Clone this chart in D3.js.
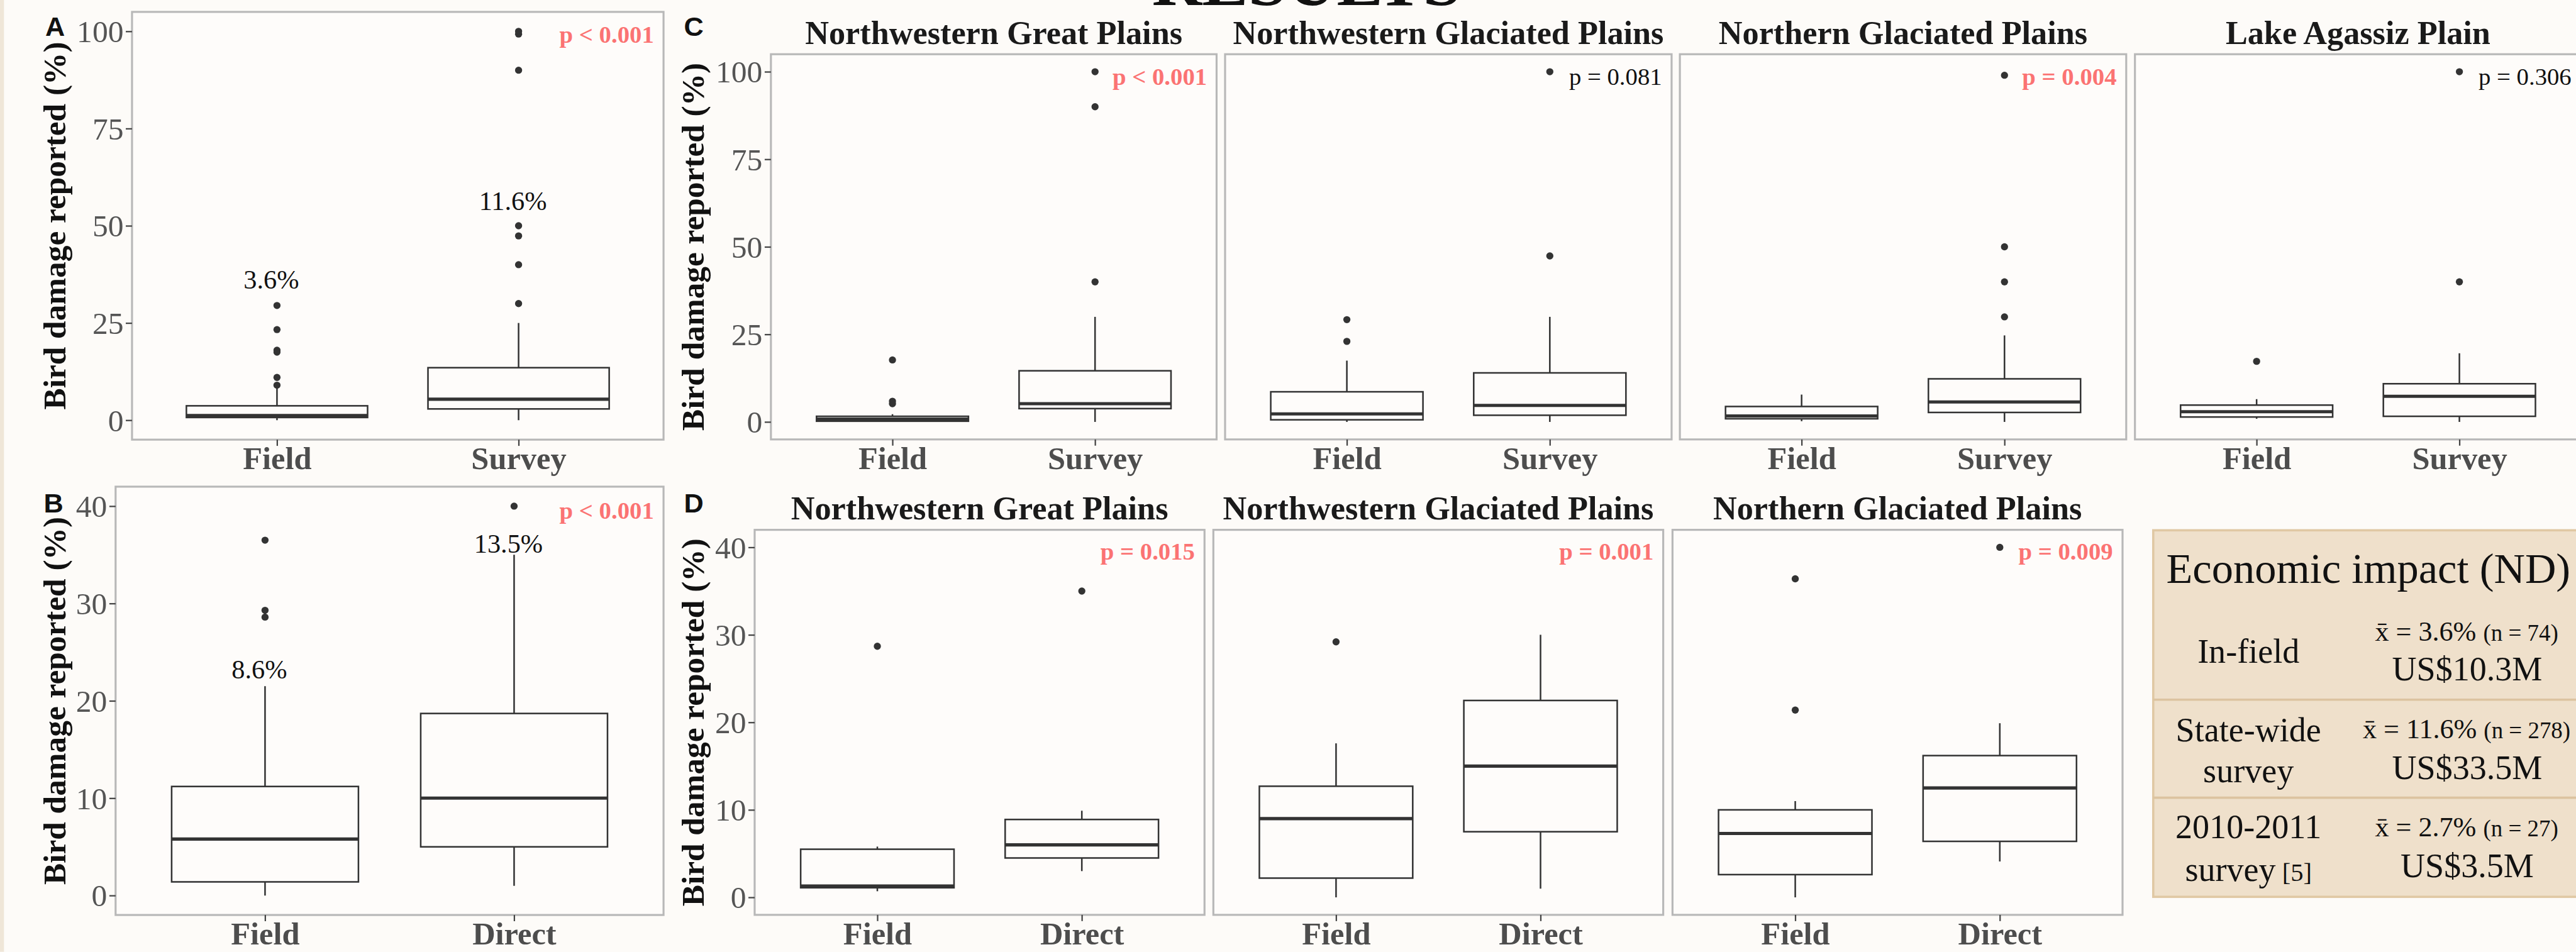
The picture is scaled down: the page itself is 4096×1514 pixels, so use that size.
<!DOCTYPE html>
<html>
<head>
<meta charset="utf-8">
<script src="https://cdn.jsdelivr.net/npm/d3@7"></script>
<style>
  html, body { margin: 0; padding: 0; background: #fdfbf8; overflow: hidden; }
  svg { display: block; }
</style>
</head>
<body>
<svg id="chart" width="4096" height="1514"></svg>
<script>
// -- Data --
const groupsSurvey = ["Field", "Survey"];
const groupsDirect = ["Field", "Direct"];
const regionsC = ["Northwestern Great Plains", "Northwestern Glaciated Plains", "Northern Glaciated Plains", "Lake Agassiz Plain"];
const regionsD = ["Northwestern Great Plains", "Northwestern Glaciated Plains", "Northern Glaciated Plains"];
const ticksAC = [0, 25, 50, 75, 100];
const ticksBD = [0, 10, 20, 30, 40];

// box stats per group: [lower whisker, q1, median, q3, upper whisker]
const statsA = [[0, 0.7, 1.2, 3.7, 8.2], [0, 2.9, 5.4, 13.5, 25]];
const outliersA = [[9, 11, 17.5, 18, 23.3, 29.5], [30, 40, 47.4, 50, 90, 99.3, 100]];
const meansA = ["3.6%", "11.6%"];
const meanYA = [33.8, 54];

const statsB = [[0, 1.4, 5.8, 11.2, 21.5], [1, 5, 10, 18.7, 35]];
const outliersB = [[28.6, 29.3, 36.5], [40]];
const meansB = ["8.6%", "13.5%"];
const meanYB = [22.3, 35.2];

const statsC = [
  [[0, 0.2, 0.8, 1.6, 2.2], [0, 3.8, 5.2, 14.6, 30]],
  [[0, 0.6, 2.3, 8.6, 17.5], [0, 1.9, 4.7, 14, 30]],
  [[0.2, 0.9, 1.7, 4.4, 7.8], [0, 2.7, 5.7, 12.3, 24.7]],
  [[0.9, 1.4, 2.9, 4.8, 6.5], [0, 1.6, 7.3, 10.9, 19.6]]
];
const outliersC = [
  [[5.2, 5.9, 17.7], [40, 90, 100]],
  [[23, 29.2], [47.4, 100]],
  [[], [30, 40, 50, 99]],
  [[17.3], [40, 100]]
];
const pValuesC = ["p < 0.001", "p = 0.081", "p = 0.004", "p = 0.306"];
const pSignifC = [true, false, true, false];

const statsD = [
  [[0.7, 1.1, 1.3, 5.5, 5.8], [3, 4.5, 6, 8.9, 9.9]],
  [[0, 2.2, 9, 12.7, 17.6], [1, 7.5, 15, 22.5, 30]],
  [[0, 2.6, 7.3, 10, 11], [4.1, 6.4, 12.5, 16.2, 19.9]]
];
const outliersD = [
  [[28.7], [35]],
  [[29.2], []],
  [[21.4, 36.4], [40]]
];
const pValuesD = ["p = 0.015", "p = 0.001", "p = 0.009"];

const tableTitle = "Economic impact (ND)";
const tableLabels = [["In-field"], ["State-wide", "survey"], ["2010-2011", "survey"]];
const tableMeans = ["3.6%", "11.6%", "2.7%"];
const tableN = ["74", "278", "27"];
const tableCosts = ["US$10.3M", "US$33.5M", "US$3.5M"];

// -- Styles --
const SERIF = "'Liberation Serif', 'Times New Roman', serif";
const SANS = "'Liberation Sans', Arial, sans-serif";
const RED = "#fb7373";
const BOX_STROKE = "#333333";
const PANEL_FILL = "#fefcfa";

const svg = d3.select("#chart");
svg.append("rect").attr("width", 4096).attr("height", 1514).attr("fill", "#fdfbf8");

// everything is laid out in the reference's pixel space and scaled down
const root = svg.append("g").attr("transform", "scale(0.901)");

// beige strip at left edge of poster
root.append("rect").attr("x", 0).attr("y", 0).attr("width", 7).attr("height", 1680).attr("fill", "#efe6d8");

// poster heading, mostly cut off by the top edge
root.append("text")
  .attr("x", 2033).attr("y", 9)
  .attr("textLength", 546).attr("lengthAdjust", "spacingAndGlyphs")
  .style("font-family", SERIF).style("font-weight", "bold").style("font-size", "120px")
  .attr("fill", "#111").text("RESULTS");

function drawPanel(opts) {
  const { x0, x1, y0, y1, groups, domain, stats, outliers, ticks, showY } = opts;
  const x = d3.scalePoint().domain(groups).range([x0, x1]).padding(0.6);
  const y = d3.scaleLinear().domain(domain).range([y1, y0]);
  const bw = x.step() * 0.75;
  const g = root.append("g");

  g.append("rect")
    .attr("x", x0).attr("y", y0).attr("width", x1 - x0).attr("height", y1 - y0)
    .attr("fill", PANEL_FILL).attr("stroke", "#b8b8b8").attr("stroke-width", 3.5);

  // x axis
  const xa = g.append("g").attr("transform", `translate(0,${y1})`)
    .call(d3.axisBottom(x).tickSize(11).tickSizeOuter(0));
  xa.select(".domain").remove();
  xa.selectAll("line").attr("stroke", "#444").attr("stroke-width", 2.5);
  xa.selectAll("text")
    .attr("y", 52).attr("dy", null)
    .style("font-family", SERIF).style("font-weight", "bold").style("font-size", "56px")
    .attr("fill", "#4d4d4d");

  if (showY) {
    const ya = g.append("g").attr("transform", `translate(${x0},0)`)
      .call(d3.axisLeft(y).tickValues(ticks).tickSize(11).tickPadding(4).tickSizeOuter(0));
    ya.select(".domain").remove();
    ya.selectAll("line").attr("stroke", "#444").attr("stroke-width", 2.5);
    ya.selectAll("text")
      .attr("dy", "0.34em")
      .style("font-family", SERIF).style("font-size", "55px")
      .attr("fill", "#555");
  }

  const boxes = g.selectAll(".box").data(groups.map((k, i) => ({ k, s: stats[i], o: outliers[i] })))
    .enter().append("g").attr("class", "box");

  boxes.append("line")
    .attr("x1", d => x(d.k)).attr("x2", d => x(d.k))
    .attr("y1", d => y(d.s[0])).attr("y2", d => y(d.s[4]))
    .attr("stroke", BOX_STROKE).attr("stroke-width", 2.8);

  boxes.append("rect")
    .attr("x", d => x(d.k) - bw / 2).attr("width", bw)
    .attr("y", d => y(d.s[3])).attr("height", d => y(d.s[1]) - y(d.s[3]))
    .attr("fill", PANEL_FILL).attr("stroke", BOX_STROKE).attr("stroke-width", 2.8);

  boxes.append("line")
    .attr("x1", d => x(d.k) - bw / 2).attr("x2", d => x(d.k) + bw / 2)
    .attr("y1", d => y(d.s[2])).attr("y2", d => y(d.s[2]))
    .attr("stroke", BOX_STROKE).attr("stroke-width", 5.6);

  boxes.selectAll("circle").data(d => d.o.map(v => ({ k: d.k, v })))
    .enter().append("circle")
    .attr("cx", d => x(d.k)).attr("cy", d => y(d.v)).attr("r", 6.3)
    .attr("fill", "#333");

  return { g, x, y };
}

function yTitle(xBase, yCenter) {
  root.append("text")
    .attr("transform", `translate(${xBase},${yCenter}) rotate(-90)`)
    .attr("text-anchor", "middle")
    .style("font-family", SERIF).style("font-weight", "bold").style("font-size", "57px")
    .attr("fill", "#111").text("Bird damage reported (%)");
}

function panelLetter(letter, xPos, yPos) {
  root.append("text").attr("x", xPos).attr("y", yPos)
    .style("font-family", SANS).style("font-weight", "bold").style("font-size", "48px")
    .attr("fill", "#111").text(letter);
}

function pLabel(p, text, signif, yVal) {
  p.g.append("text")
    .attr("x", p.x.range()[1] - 17).attr("y", p.y(yVal))
    .attr("text-anchor", "end")
    .style("font-family", SERIF).style("font-size", "43px")
    .style("font-weight", signif ? "bold" : "normal")
    .attr("fill", signif ? RED : "#111").text(text);
}

function meanLabels(p, groups, labels, ys) {
  p.g.selectAll(".mean").data(groups).enter().append("text")
    .attr("class", "mean")
    .attr("x", d => p.x(d) - 10).attr("y", (d, i) => p.y(ys[i]))
    .attr("text-anchor", "middle")
    .style("font-family", SERIF).style("font-size", "47px")
    .attr("fill", "#111").text((d, i) => labels[i]);
}

function stripTitle(p, text) {
  const [a, b] = p.x.range();
  p.g.append("text")
    .attr("x", (a + b) / 2).attr("y", p.y.range()[1] - 18)
    .attr("text-anchor", "middle")
    .style("font-family", SERIF).style("font-weight", "bold").style("font-size", "58px")
    .attr("fill", "#1a1a1a").text(text);
}

// -- Panel A --
const pA = drawPanel({ x0: 233, x1: 1171, y0: 21, y1: 776, groups: groupsSurvey, domain: [-5, 105],
  stats: statsA, outliers: outliersA, ticks: ticksAC, showY: true });
meanLabels(pA, groupsSurvey, meansA, meanYA);
pLabel(pA, "p < 0.001", true, 97);
yTitle(115, 398.5);
panelLetter("A", 80, 63);

// -- Panel B --
const pB = drawPanel({ x0: 204, x1: 1171, y0: 859, y1: 1615, groups: groupsDirect, domain: [-2, 42],
  stats: statsB, outliers: outliersB, ticks: ticksBD, showY: true });
meanLabels(pB, groupsDirect, meansB, meanYB);
pLabel(pB, "p < 0.001", true, 38.7);
yTitle(115, 1237);
panelLetter("B", 77, 904);

// -- Panel C --
const facetC = [[1360.5, 2147], [2162, 2950], [2964.6, 3752.3], [3767.7, 4555]];
regionsC.forEach((r, i) => {
  const p = drawPanel({ x0: facetC[i][0], x1: facetC[i][1], y0: 95.7, y1: 775.6, groups: groupsSurvey,
    domain: [-5, 105], stats: statsC[i], outliers: outliersC[i], ticks: ticksAC, showY: i === 0 });
  stripTitle(p, r);
  pLabel(p, pValuesC[i], pSignifC[i], 96.2);
});
yTitle(1242, 435.6);
panelLetter("C", 1207, 63);

// -- Panel D --
const facetD = [[1331.8, 2125.7], [2141.3, 2935.2], [2951.6, 3745.8]];
regionsD.forEach((r, i) => {
  const p = drawPanel({ x0: facetD[i][0], x1: facetD[i][1], y0: 935.2, y1: 1614.8, groups: groupsDirect,
    domain: [-2, 42], stats: statsD[i], outliers: outliersD[i], ticks: ticksBD, showY: i === 0 });
  stripTitle(p, r);
  pLabel(p, pValuesD[i], true, 38.6);
});
yTitle(1242, 1275);
panelLetter("D", 1207, 904);

// -- Economic impact table --
const tbl = root.append("g");
tbl.append("rect").attr("x", 3800).attr("y", 936).attr("width", 800).attr("height", 647)
  .attr("fill", "#efe0cb").attr("stroke", "#e0c8a4").attr("stroke-width", 4);
[1235, 1408].forEach(yy => {
  tbl.append("line").attr("x1", 3800).attr("x2", 4600).attr("y1", yy).attr("y2", yy)
    .attr("stroke", "#dcc3a0").attr("stroke-width", 4);
});
tbl.append("text").attr("x", 3823).attr("y", 1029)
  .style("font-family", SERIF).style("font-size", "76px").attr("fill", "#111").text(tableTitle);

const labelBase = [[1170], [1308, 1381], [1480, 1555]];
const meanBase = [1131, 1303, 1476];
const costBase = [1201, 1375, 1548];

tableLabels.forEach((lines, i) => {
  lines.forEach((ln, j) => {
    const t = tbl.append("text").attr("x", 3968).attr("y", labelBase[i][j])
      .attr("text-anchor", "middle")
      .style("font-family", SERIF).style("font-size", "60px").attr("fill", "#111");
    t.append("tspan").text(ln);
    if (i === 2 && j === 1) t.append("tspan").style("font-size", "45px").text(" [5]");
  });
  const m = tbl.append("text").attr("x", 4353).attr("y", meanBase[i])
    .attr("text-anchor", "middle")
    .style("font-family", SERIF).style("font-size", "49px").attr("fill", "#111");
  m.append("tspan").text("x\u0304 = " + tableMeans[i] + " ");
  m.append("tspan").style("font-size", "41px").text("(n = " + tableN[i] + ")");
  tbl.append("text").attr("x", 4354).attr("y", costBase[i])
    .attr("text-anchor", "middle")
    .style("font-family", SERIF).style("font-size", "60px").attr("fill", "#111").text(tableCosts[i]);
});
</script>
</body>
</html>
